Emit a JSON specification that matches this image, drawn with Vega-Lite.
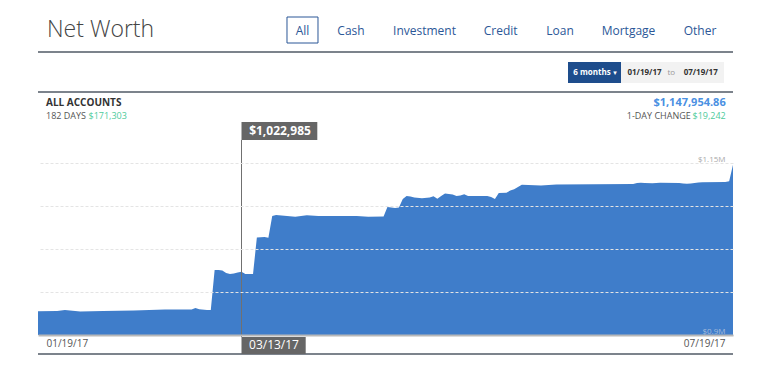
{
  "$schema": "https://vega.github.io/schema/vega-lite/v6.json",
  "width": 695,
  "height": 172,
  "autosize": {"type": "none"},
  "padding": {"left": 38, "top": 163, "right": 35, "bottom": 40},
  "background": "white",
  "config": {
    "font": "Open Sans",
    "view": {"stroke": null},
    "style": {
      "tab": {"fontSize": 12, "align": "center", "baseline": "middle"},
      "btn": {"fontSize": 8, "fontWeight": "bold", "baseline": "middle", "align": "center"},
      "hdr": {"baseline": "middle"}
    }
  },
  "data": {"values": [{}]},
  "layer": [
    {
      "data": {"values": [
        {"date": "2017-01-19", "value": 976652},
        {"date": "2017-01-24", "value": 977047},
        {"date": "2017-01-26", "value": 978216},
        {"date": "2017-01-30", "value": 976463},
        {"date": "2017-02-05", "value": 977047},
        {"date": "2017-02-13", "value": 977632},
        {"date": "2017-02-21", "value": 978800},
        {"date": "2017-02-28", "value": 978800},
        {"date": "2017-03-01", "value": 980553},
        {"date": "2017-03-02", "value": 979000},
        {"date": "2017-03-04", "value": 978216},
        {"date": "2017-03-05", "value": 978216},
        {"date": "2017-03-06", "value": 1024960},
        {"date": "2017-03-07", "value": 1024960},
        {"date": "2017-03-08", "value": 1024375},
        {"date": "2017-03-09", "value": 1021454},
        {"date": "2017-03-10", "value": 1020285},
        {"date": "2017-03-11", "value": 1020870},
        {"date": "2017-03-12", "value": 1022038},
        {"date": "2017-03-13", "value": 1022985},
        {"date": "2017-03-14", "value": 1020285},
        {"date": "2017-03-16", "value": 1020285},
        {"date": "2017-03-17", "value": 1062939},
        {"date": "2017-03-19", "value": 1063524},
        {"date": "2017-03-20", "value": 1062706},
        {"date": "2017-03-21", "value": 1088064},
        {"date": "2017-03-22", "value": 1089233},
        {"date": "2017-03-27", "value": 1087246},
        {"date": "2017-03-30", "value": 1088882},
        {"date": "2017-04-02", "value": 1088064},
        {"date": "2017-04-12", "value": 1088064},
        {"date": "2017-04-15", "value": 1087246},
        {"date": "2017-04-19", "value": 1087480},
        {"date": "2017-04-20", "value": 1098582},
        {"date": "2017-04-22", "value": 1097413},
        {"date": "2017-04-23", "value": 1097997},
        {"date": "2017-04-24", "value": 1107930},
        {"date": "2017-04-25", "value": 1111436},
        {"date": "2017-04-26", "value": 1110852},
        {"date": "2017-04-27", "value": 1109683},
        {"date": "2017-04-29", "value": 1108748},
        {"date": "2017-05-01", "value": 1109683},
        {"date": "2017-05-02", "value": 1111086},
        {"date": "2017-05-03", "value": 1108164},
        {"date": "2017-05-04", "value": 1111436},
        {"date": "2017-05-05", "value": 1114358},
        {"date": "2017-05-06", "value": 1113773},
        {"date": "2017-05-07", "value": 1113189},
        {"date": "2017-05-08", "value": 1111436},
        {"date": "2017-05-09", "value": 1112020},
        {"date": "2017-05-10", "value": 1113423},
        {"date": "2017-05-11", "value": 1111436},
        {"date": "2017-05-16", "value": 1111436},
        {"date": "2017-05-17", "value": 1110268},
        {"date": "2017-05-18", "value": 1107930},
        {"date": "2017-05-19", "value": 1114942},
        {"date": "2017-05-21", "value": 1115176},
        {"date": "2017-05-22", "value": 1117863},
        {"date": "2017-05-23", "value": 1119383},
        {"date": "2017-05-24", "value": 1121954},
        {"date": "2017-05-25", "value": 1124641},
        {"date": "2017-05-30", "value": 1123706},
        {"date": "2017-06-03", "value": 1124875},
        {"date": "2017-06-23", "value": 1125459},
        {"date": "2017-06-24", "value": 1126628},
        {"date": "2017-06-25", "value": 1126979},
        {"date": "2017-06-26", "value": 1126628},
        {"date": "2017-06-28", "value": 1126277},
        {"date": "2017-06-30", "value": 1126779},
        {"date": "2017-07-05", "value": 1126628},
        {"date": "2017-07-06", "value": 1126044},
        {"date": "2017-07-07", "value": 1125693},
        {"date": "2017-07-08", "value": 1126044},
        {"date": "2017-07-09", "value": 1126628},
        {"date": "2017-07-10", "value": 1127212},
        {"date": "2017-07-11", "value": 1127446},
        {"date": "2017-07-17", "value": 1127797},
        {"date": "2017-07-18", "value": 1128713},
        {"date": "2017-07-19", "value": 1147954.86}
      ]},
      "mark": {"type": "area", "color": "#3f7dca", "interpolate": "linear"},
      "encoding": {
        "x": {
          "field": "date", "type": "temporal",
          "scale": {"type": "utc", "nice": false, "domain": [
            {"year": 2017, "month": 1, "date": 19, "utc": true},
            {"year": 2017, "month": 7, "date": 19, "utc": true}]},
          "axis": {
            "title": null, "grid": false, "ticks": false, "zindex": 1,
            "values": [
              {"year": 2017, "month": 1, "date": 19, "utc": true},
              {"year": 2017, "month": 7, "date": 19, "utc": true}],
            "format": "%m/%d/%y", "labelFlush": true, "labelFlushOffset": -8,
            "domainColor": "#b8b8b8", "domainWidth": 2,
            "labelColor": "#555555", "labelFontSize": 10, "labelPadding": 3
          }
        },
        "y": {
          "field": "value", "type": "quantitative",
          "scale": {"domain": [949000, 1150000], "nice": false, "zero": false},
          "axis": {
            "orient": "right", "title": null, "zindex": 1,
            "values": [949000, 999250, 1049500, 1099750, 1150000],
            "grid": true, "gridColor": "#e4e4e4", "gridDash": [3, 2],
            "domain": false, "ticks": false,
            "labelExpr": "datum.value == 1150000 ? '$1.15M' : (datum.value == 949000 ? '$0.9M' : '')",
            "labelAlign": "right", "labelBaseline": "bottom", "labelPadding": -8,
            "labelFontSize": 8,
            "labelColor": {"condition": {"test": "datum.value < 1000000", "value": "#a6bbdb"}, "value": "#aaaaaa"}
          }
        },
        "y2": {"datum": 949000}
      }
    },
    {
      "mark": {"type": "rule", "color": "#505a66", "strokeWidth": 1.5},
      "encoding": {
        "x": {"datum": {"year": 2017, "month": 1, "date": 19, "utc": true}, "type": "temporal"},
        "x2": {"datum": {"year": 2017, "month": 7, "date": 19, "utc": true}},
        "y": {"datum": 1279715, "type": "quantitative"}
      }
    },
    {
      "mark": {"type": "rule", "color": "#505a66", "strokeWidth": 1.5},
      "encoding": {
        "x": {"datum": {"year": 2017, "month": 1, "date": 19, "utc": true}, "type": "temporal"},
        "x2": {"datum": {"year": 2017, "month": 7, "date": 19, "utc": true}},
        "y": {"datum": 1232971, "type": "quantitative"}
      }
    },
    {
      "mark": {"type": "rule", "color": "#505a66", "strokeWidth": 1.5},
      "encoding": {
        "x": {"datum": {"year": 2017, "month": 1, "date": 19, "utc": true}, "type": "temporal"},
        "x2": {"datum": {"year": 2017, "month": 7, "date": 19, "utc": true}},
        "y": {"datum": 926797, "type": "quantitative"}
      }
    },
    {
      "mark": {"type": "text", "style": "hdr", "align": "left", "fontSize": 23, "fontWeight": 300, "color": "#444444"},
      "encoding": {
        "x": {"datum": {"year": 2017, "month": 1, "date": 21, "hours": 8, "minutes": 15, "utc": true}, "type": "temporal"},
        "y": {"datum": 1305424, "type": "quantitative"},
        "text": {"value": "Net Worth"}
      }
    },
    {
      "mark": {"type": "rect", "fill": "white", "stroke": "#2b5797", "strokeWidth": 1},
      "encoding": {
        "x": {"datum": {"year": 2017, "month": 3, "date": 24, "hours": 20, "minutes": 20, "utc": true}, "type": "temporal"},
        "x2": {"datum": {"year": 2017, "month": 4, "date": 1, "hours": 22, "minutes": 6, "utc": true}},
        "y": {"datum": 1320616, "type": "quantitative"},
        "y2": {"datum": 1290232}
      }
    },
    {
      "mark": {"type": "text", "style": "tab", "color": "#2b5797"},
      "encoding": {
        "x": {"datum": {"year": 2017, "month": 3, "date": 28, "hours": 21, "minutes": 13, "utc": true}, "type": "temporal"},
        "y": {"datum": 1304840, "type": "quantitative"},
        "text": {"value": "All"}
      }
    },
    {
      "mark": {"type": "text", "style": "tab", "color": "#2b5797"},
      "encoding": {
        "x": {"datum": {"year": 2017, "month": 4, "date": 10, "hours": 12, "minutes": 22, "utc": true}, "type": "temporal"},
        "y": {"datum": 1304840, "type": "quantitative"},
        "text": {"value": "Cash"}
      }
    },
    {
      "mark": {"type": "text", "style": "tab", "color": "#2b5797"},
      "encoding": {
        "x": {"datum": {"year": 2017, "month": 4, "date": 29, "hours": 15, "minutes": 46, "utc": true}, "type": "temporal"},
        "y": {"datum": 1304840, "type": "quantitative"},
        "text": {"value": "Investment"}
      }
    },
    {
      "mark": {"type": "text", "style": "tab", "color": "#2b5797"},
      "encoding": {
        "x": {"datum": {"year": 2017, "month": 5, "date": 19, "hours": 12, "minutes": 3, "utc": true}, "type": "temporal"},
        "y": {"datum": 1304840, "type": "quantitative"},
        "text": {"value": "Credit"}
      }
    },
    {
      "mark": {"type": "text", "style": "tab", "color": "#2b5797"},
      "encoding": {
        "x": {"datum": {"year": 2017, "month": 6, "date": 3, "hours": 22, "minutes": 41, "utc": true}, "type": "temporal"},
        "y": {"datum": 1304840, "type": "quantitative"},
        "text": {"value": "Loan"}
      }
    },
    {
      "mark": {"type": "text", "style": "tab", "color": "#2b5797"},
      "encoding": {
        "x": {"datum": {"year": 2017, "month": 6, "date": 21, "hours": 18, "minutes": 50, "utc": true}, "type": "temporal"},
        "y": {"datum": 1304840, "type": "quantitative"},
        "text": {"value": "Mortgage"}
      }
    },
    {
      "mark": {"type": "text", "style": "tab", "color": "#2b5797"},
      "encoding": {
        "x": {"datum": {"year": 2017, "month": 7, "date": 10, "hours": 9, "minutes": 45, "utc": true}, "type": "temporal"},
        "y": {"datum": 1304840, "type": "quantitative"},
        "text": {"value": "Other"}
      }
    },
    {
      "mark": {"type": "rect", "fill": "#1e4d8c"},
      "encoding": {
        "x": {"datum": {"year": 2017, "month": 6, "date": 6, "hours": 0, "minutes": 42, "utc": true}, "type": "temporal"},
        "x2": {"datum": {"year": 2017, "month": 6, "date": 19, "hours": 20, "minutes": 0, "utc": true}},
        "y": {"datum": 1268029, "type": "quantitative"},
        "y2": {"datum": 1243488}
      }
    },
    {
      "mark": {"type": "rect", "fill": "#f2f2f2"},
      "encoding": {
        "x": {"datum": {"year": 2017, "month": 6, "date": 19, "hours": 20, "minutes": 0, "utc": true}, "type": "temporal"},
        "x2": {"datum": {"year": 2017, "month": 7, "date": 16, "hours": 15, "minutes": 45, "utc": true}},
        "y": {"datum": 1268029, "type": "quantitative"},
        "y2": {"datum": 1243488}
      }
    },
    {
      "mark": {"type": "text", "style": "btn", "align": "left", "color": "white"},
      "encoding": {
        "x": {"datum": {"year": 2017, "month": 6, "date": 7, "hours": 9, "minutes": 50, "utc": true}, "type": "temporal"},
        "y": {"datum": 1255758, "type": "quantitative"},
        "text": {"value": "6 months"}
      }
    },
    {
      "mark": {"type": "text", "style": "btn", "color": "white", "font": "DejaVu Sans", "fontSize": 7},
      "encoding": {
        "x": {"datum": {"year": 2017, "month": 6, "date": 18, "hours": 6, "utc": true}, "type": "temporal"},
        "y": {"datum": 1255758, "type": "quantitative"},
        "text": {"value": "▾"}
      }
    },
    {
      "mark": {"type": "text", "style": "btn", "color": "#333333"},
      "encoding": {
        "x": {"datum": {"year": 2017, "month": 6, "date": 25, "hours": 22, "minutes": 51, "utc": true}, "type": "temporal"},
        "y": {"datum": 1255758, "type": "quantitative"},
        "text": {"value": "01/19/17"}
      }
    },
    {
      "mark": {"type": "text", "style": "btn", "fontWeight": "normal", "color": "#999999"},
      "encoding": {
        "x": {"datum": {"year": 2017, "month": 7, "date": 2, "hours": 22, "minutes": 21, "utc": true}, "type": "temporal"},
        "y": {"datum": 1255758, "type": "quantitative"},
        "text": {"value": "to"}
      }
    },
    {
      "mark": {"type": "text", "style": "btn", "color": "#333333"},
      "encoding": {
        "x": {"datum": {"year": 2017, "month": 7, "date": 10, "hours": 14, "minutes": 7, "utc": true}, "type": "temporal"},
        "y": {"datum": 1255758, "type": "quantitative"},
        "text": {"value": "07/19/17"}
      }
    },
    {
      "mark": {"type": "text", "style": "hdr", "align": "left", "fontSize": 10, "fontWeight": "bold", "color": "#333333"},
      "encoding": {
        "x": {"datum": {"year": 2017, "month": 1, "date": 21, "hours": 2, "utc": true}, "type": "temporal"},
        "y": {"datum": 1219765, "type": "quantitative"},
        "text": {"value": "ALL ACCOUNTS"}
      }
    },
    {
      "mark": {"type": "text", "style": "hdr", "align": "left", "fontSize": 9, "color": "#555555"},
      "encoding": {
        "x": {"datum": {"year": 2017, "month": 1, "date": 21, "hours": 2, "utc": true}, "type": "temporal"},
        "y": {"datum": 1204924, "type": "quantitative"},
        "text": {"value": "182 DAYS"}
      }
    },
    {
      "mark": {"type": "text", "style": "hdr", "align": "left", "fontSize": 9, "color": "#4ecb9c"},
      "encoding": {
        "x": {"datum": {"year": 2017, "month": 2, "date": 1, "hours": 3, "minutes": 39, "utc": true}, "type": "temporal"},
        "y": {"datum": 1204924, "type": "quantitative"},
        "text": {"value": "$171,303"}
      }
    },
    {
      "mark": {"type": "text", "style": "hdr", "align": "right", "fontSize": 11, "fontWeight": "bold", "color": "#4a90e2"},
      "encoding": {
        "x": {"datum": {"year": 2017, "month": 7, "date": 17, "hours": 2, "minutes": 23, "utc": true}, "type": "temporal"},
        "y": {"datum": 1219765, "type": "quantitative"},
        "text": {"value": "$1,147,954.86"}
      }
    },
    {
      "mark": {"type": "text", "style": "hdr", "align": "right", "fontSize": 9, "color": "#555555"},
      "encoding": {
        "x": {"datum": {"year": 2017, "month": 7, "date": 7, "hours": 23, "minutes": 37, "utc": true}, "type": "temporal"},
        "y": {"datum": 1204924, "type": "quantitative"},
        "text": {"value": "1-DAY CHANGE"}
      }
    },
    {
      "mark": {"type": "text", "style": "hdr", "align": "right", "fontSize": 9, "color": "#4ecb9c"},
      "encoding": {
        "x": {"datum": {"year": 2017, "month": 7, "date": 17, "hours": 2, "minutes": 23, "utc": true}, "type": "temporal"},
        "y": {"datum": 1204924, "type": "quantitative"},
        "text": {"value": "$19,242"}
      }
    },
    {
      "mark": {"type": "rule", "color": "#707070", "strokeWidth": 1},
      "encoding": {
        "x": {"datum": {"year": 2017, "month": 3, "date": 13, "utc": true}, "type": "temporal"},
        "y": {"datum": 1176878, "type": "quantitative"},
        "y2": {"datum": 946664}
      }
    },
    {
      "mark": {"type": "rect", "fill": "#666666"},
      "encoding": {
        "x": {"datum": {"year": 2017, "month": 3, "date": 13, "utc": true}, "type": "temporal"},
        "x2": {"datum": {"year": 2017, "month": 4, "date": 1, "hours": 17, "minutes": 44, "utc": true}},
        "y": {"datum": 1197913, "type": "quantitative"},
        "y2": {"datum": 1176878}
      }
    },
    {
      "mark": {"type": "text", "style": "hdr", "align": "center", "fontSize": 12, "fontWeight": "bold", "color": "white"},
      "encoding": {
        "x": {"datum": {"year": 2017, "month": 3, "date": 23, "hours": 0, "minutes": 35, "utc": true}, "type": "temporal"},
        "y": {"datum": 1187395, "type": "quantitative"},
        "text": {"value": "$1,022,985"}
      }
    },
    {
      "mark": {"type": "rect", "fill": "#666666"},
      "encoding": {
        "x": {"datum": {"year": 2017, "month": 3, "date": 13, "utc": true}, "type": "temporal"},
        "x2": {"datum": {"year": 2017, "month": 3, "date": 29, "hours": 17, "minutes": 14, "utc": true}},
        "y": {"datum": 946664, "type": "quantitative"},
        "y2": {"datum": 926797}
      }
    },
    {
      "mark": {"type": "text", "style": "hdr", "align": "center", "fontSize": 12, "color": "white"},
      "encoding": {
        "x": {"datum": {"year": 2017, "month": 3, "date": 21, "hours": 11, "minutes": 5, "utc": true}, "type": "temporal"},
        "y": {"datum": 936731, "type": "quantitative"},
        "text": {"value": "03/13/17"}
      }
    }
  ]
}
